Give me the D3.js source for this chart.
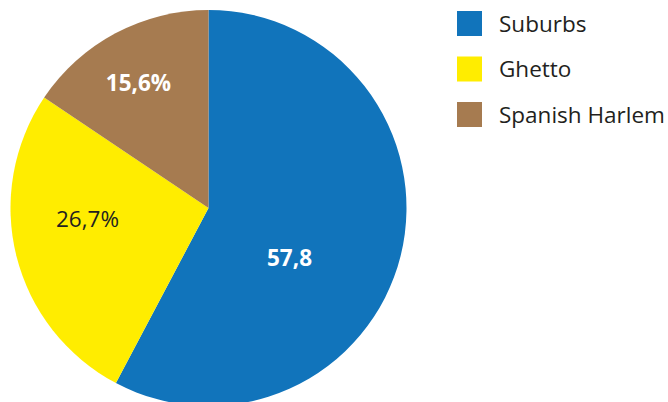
<!DOCTYPE html>
<html><head><meta charset="utf-8">
<script src="https://cdn.jsdelivr.net/npm/d3@7"></script>
<style>body{margin:0;background:#fff}svg{display:block}</style>
</head><body>
<svg id="c" width="668" height="402"></svg>
<script>
const categories = ["Suburbs", "Ghetto", "Spanish Harlem"];
const values = [57.8, 26.7, 15.6];
const labels = ["57,8", "26,7%", "15,6%"];
const colors = ["#1174BB", "#FFED00", "#A67B50"];

const svg = d3.select("#c");
const cx = 208.5, cy = 208, r = 198;
const pie = d3.pie().sort(null).value(d => d)(values);
const arc = d3.arc().innerRadius(0).outerRadius(r);
const g = svg.append("g").attr("transform", `translate(${cx},${cy})`);
g.selectAll("path").data(pie).join("path")
  .attr("d", arc).attr("fill", (d, i) => colors[i]);

const labelPos = [[81, 58], [-121, 19], [-70, -117]];
const labelStyle = [
  {fill: "#fff", weight: "bold"},
  {fill: "#231F20", weight: "normal"},
  {fill: "#fff", weight: "bold"}
];
g.selectAll("text.lbl").data(pie).join("text").attr("class", "lbl")
  .attr("x", (d, i) => labelPos[i][0]).attr("y", (d, i) => labelPos[i][1])
  .attr("text-anchor", "middle")
  .attr("font-family", "'Open Sans', sans-serif")
  .attr("font-size", 22.5)
  .attr("font-weight", (d, i) => labelStyle[i].weight)
  .attr("fill", (d, i) => labelStyle[i].fill)
  .text((d, i) => labels[i]);

const leg = svg.append("g").attr("transform", "translate(457,11)");
const items = leg.selectAll("g").data(categories).join("g")
  .attr("transform", (d, i) => `translate(0,${i * 45.5})`);
items.append("rect").attr("width", 25).attr("height", 25).attr("fill", (d, i) => colors[i]);
items.append("text").attr("x", 42).attr("y", 20.5)
  .attr("font-family", "'Open Sans', sans-serif").attr("font-size", 22.5)
  .attr("fill", "#231F20").text(d => d);
</script>
</body></html>
